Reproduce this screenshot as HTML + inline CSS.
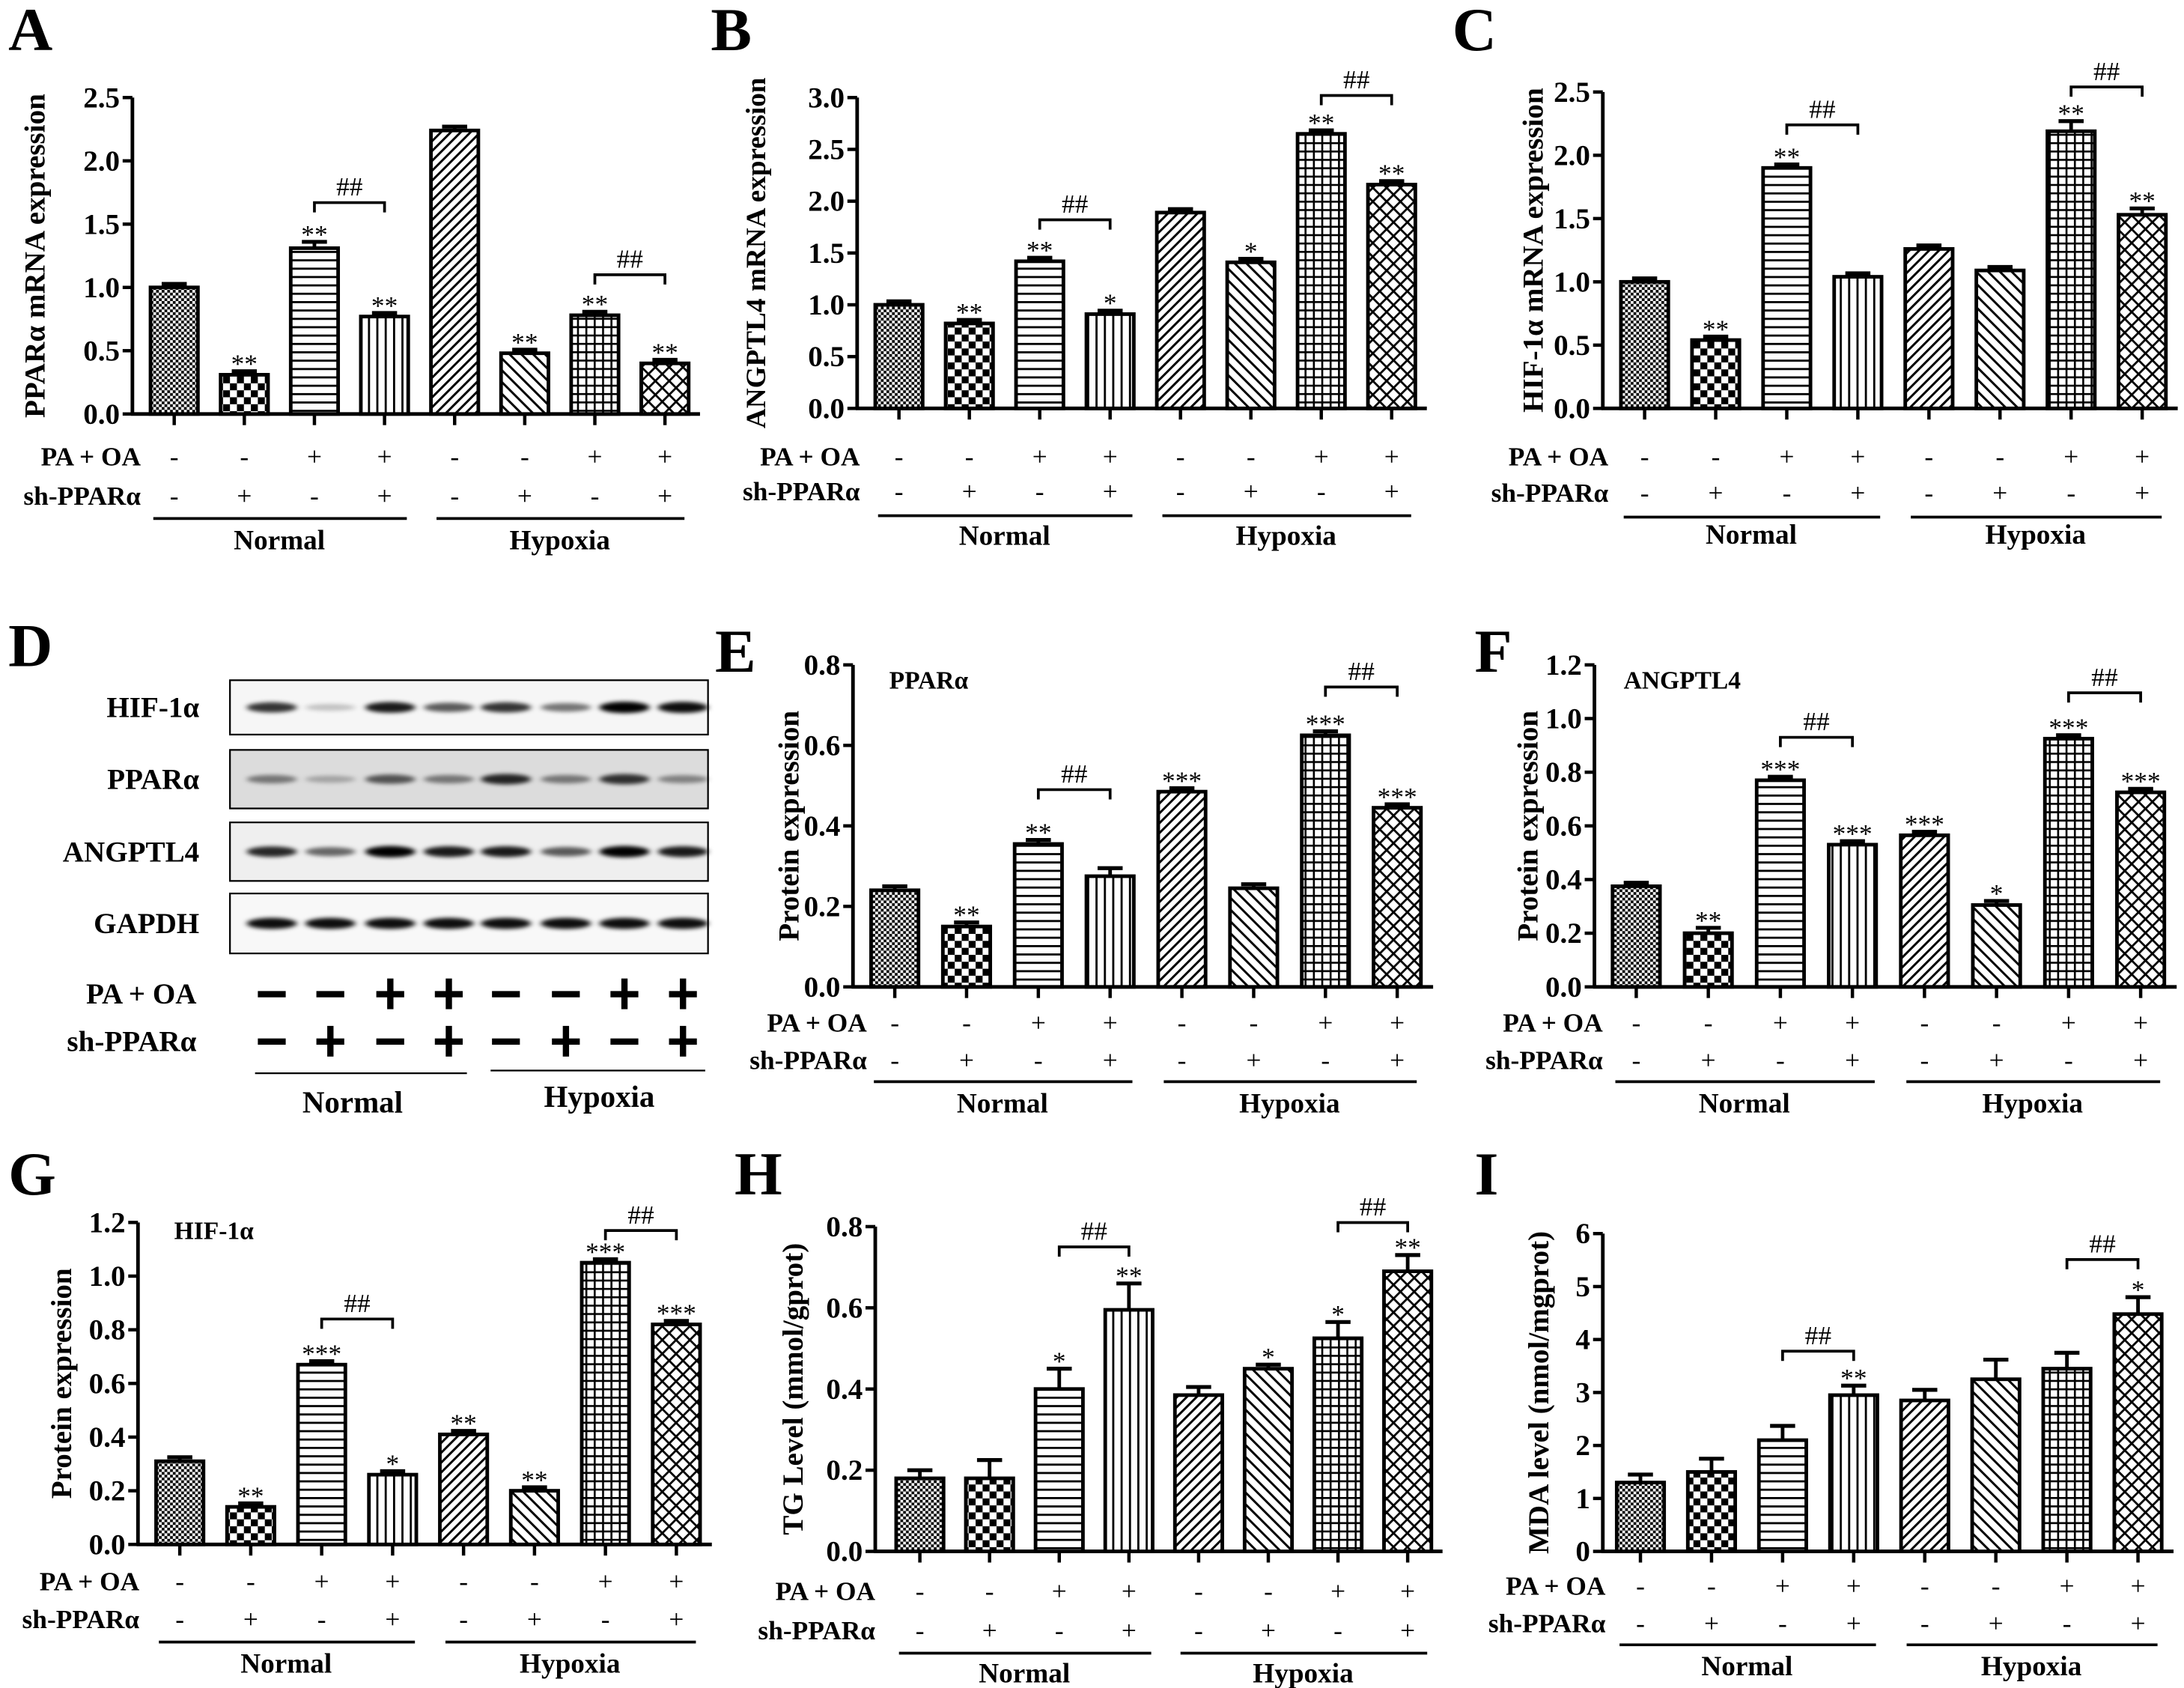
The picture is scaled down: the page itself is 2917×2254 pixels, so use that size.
<!DOCTYPE html>
<html><head><meta charset="utf-8"><style>
html,body{margin:0;padding:0;background:#fff}
svg{display:block}
text{font-family:"Liberation Serif",serif;font-weight:bold;fill:#000}
</style></head><body>
<svg id="fig" xmlns="http://www.w3.org/2000/svg" width="2917" height="2254" viewBox="0 0 1567 1211" preserveAspectRatio="none">
<defs>
<pattern id="p0" width="4" height="4" patternUnits="userSpaceOnUse"><rect width="4" height="4" fill="#fff"/><rect width="2" height="2" fill="#000"/><rect x="2" y="2" width="2" height="2" fill="#000"/></pattern>
<pattern id="p1" width="10" height="10" patternUnits="userSpaceOnUse"><rect width="10" height="10" fill="#fff"/><rect width="5" height="5" fill="#000"/><rect x="5" y="5" width="5" height="5" fill="#000"/></pattern>
<pattern id="p2" width="6" height="6" patternUnits="userSpaceOnUse"><rect width="6" height="6" fill="#fff"/><rect y="0" width="6" height="1.5" fill="#000"/></pattern>
<pattern id="p3" width="6" height="6" patternUnits="userSpaceOnUse"><rect width="6" height="6" fill="#fff"/><rect x="0" width="1.5" height="6" fill="#000"/></pattern>
<pattern id="p4" width="5" height="5" patternUnits="userSpaceOnUse" patternTransform="rotate(45)"><rect width="5" height="5" fill="#fff"/><rect width="1.6" height="5" fill="#000"/></pattern>
<pattern id="p5" width="6" height="6" patternUnits="userSpaceOnUse" patternTransform="rotate(-45)"><rect width="6" height="6" fill="#fff"/><rect width="1.6" height="6" fill="#000"/></pattern>
<pattern id="p6" width="6" height="6" patternUnits="userSpaceOnUse"><rect width="6" height="6" fill="#fff"/><rect width="6" height="1.4" fill="#000"/><rect width="1.4" height="6" fill="#000"/></pattern>
<pattern id="p7" width="7" height="7" patternUnits="userSpaceOnUse" patternTransform="rotate(45)"><rect width="7" height="7" fill="#fff"/><rect width="1.5" height="7" fill="#000"/><rect width="7" height="1.5" fill="#000"/></pattern>
<filter id="blur" x="-20%" y="-100%" width="140%" height="300%"><feGaussianBlur stdDeviation="2.2 1.4"/></filter>
</defs>
</svg>
<script>
// ---- data ----
const groupsPA = ['-','-','+','+','-','-','+','+'];
const groupsSh = ['-','+','-','+','-','+','-','+'];
const valuesA = [1.0,0.31,1.31,0.77,2.24,0.48,0.78,0.40];
const errorsA = [0.01,0.01,0.05,0.02,0.03,0.01,0.02,0.01];
const starsA = ['','**','**','**','','**','**','**'];
const bracketsA = [[2,3,1.67],[6,7,1.1]];
const ticksA = ['0.0','0.5','1.0','1.5','2.0','2.5'];

const valuesB = [1.0,0.82,1.42,0.91,1.89,1.41,2.65,2.16];
const errorsB = [0.01,0.02,0.02,0.02,0.03,0.02,0.03,0.03];
const starsB = ['','**','**','*','','*','**','**'];
const bracketsB = [[2,3,1.82],[6,7,3.02]];
const ticksB = ['0.0','0.5','1.0','1.5','2.0','2.5','3.0'];

const valuesC = [1.0,0.54,1.9,1.04,1.26,1.09,2.19,1.53];
const errorsC = [0.01,0.02,0.02,0.02,0.01,0.01,0.08,0.05];
const starsC = ['','**','**','','','','**','**'];
const bracketsC = [[2,3,2.24],[6,7,2.54]];
const ticksC = ['0.0','0.5','1.0','1.5','2.0','2.5'];

const valuesE = [0.24,0.15,0.355,0.275,0.485,0.245,0.625,0.445];
const errorsE = [0.01,0.01,0.01,0.02,0.005,0.01,0.01,0.005];
const starsE = ['','**','**','','***','','***','***'];
const bracketsE = [[2,3,0.49],[6,7,0.745]];
const ticksE = ['0.0','0.2','0.4','0.6','0.8'];

const valuesF = [0.375,0.2,0.77,0.53,0.565,0.305,0.925,0.725];
const errorsF = [0.01,0.02,0.01,0.01,0.01,0.015,0.01,0.01];
const starsF = ['','**','***','***','***','*','***','***'];
const bracketsF = [[2,3,0.93],[6,7,1.096]];
const ticksF = ['0.0','0.2','0.4','0.6','0.8','1.0','1.2'];

const valuesG = [0.31,0.14,0.67,0.26,0.41,0.2,1.05,0.82];
const errorsG = [0.015,0.01,0.01,0.01,0.01,0.005,0.01,0.005];
const starsG = ['','**','***','*','**','**','***','***'];
const bracketsG = [[2,3,0.84],[6,7,1.17]];
const ticksG = ['0.0','0.2','0.4','0.6','0.8','1.0','1.2'];

const valuesH = [0.18,0.18,0.40,0.595,0.385,0.45,0.525,0.69];
const errorsH = [0.02,0.045,0.05,0.065,0.02,0.01,0.04,0.04];
const starsH = ['','','*','**','','*','*','**'];
const bracketsH = [[2,3,0.75],[6,7,0.81]];
const ticksH = ['0.0','0.2','0.4','0.6','0.8'];

const valuesI = [1.3,1.5,2.1,2.95,2.85,3.25,3.45,4.48];
const errorsI = [0.15,0.25,0.27,0.18,0.2,0.37,0.3,0.32];
const starsI = ['','','','**','','','','*'];
const bracketsI = [[2,3,3.78],[6,7,5.51]];
const ticksI = ['0','1','2','3','4','5','6'];

const blotProteins = ['HIF-1α','PPARα','ANGPTL4','GAPDH'];
const blotHIF = [0.75,0.2,0.85,0.6,0.75,0.5,0.95,0.9];
const blotPPAR = [0.45,0.25,0.6,0.45,0.8,0.45,0.75,0.4];
const blotANG = [0.8,0.55,0.95,0.85,0.85,0.6,0.95,0.85];
const blotGAPDH = [0.9,0.9,0.9,0.9,0.9,0.9,0.9,0.9];

// ---- helpers ----
const NS='http://www.w3.org/2000/svg';
const svg=document.getElementById('fig');
function mk(tag,attrs,parent){const e=document.createElementNS(NS,tag);for(const k in attrs)e.setAttribute(k,attrs[k]);(parent||svg).appendChild(e);return e;}
function txt(s,x,y,size,anchor,parent){const t=mk('text',{x:x,y:y,'font-size':size,'text-anchor':anchor||'middle'},parent);t.textContent=s;return t;}

function drawChart(c,values,errors,stars,brackets,ticks){
  const g=mk('g',{});
  
  
  const max=parseFloat(ticks[ticks.length-1]);
  const ys=v=>c.yBot-(v/max)*(c.yBot-c.yTop);
  const xs=i=>c.first+i*c.step;
  const bw=34;
  const xEnd=xs(7)+c.step*0.5;
  const ya=mk('line',{x1:c.x0,y1:c.yTop,x2:c.x0,y2:c.yBot,stroke:'#000','stroke-width':2.6},g);
  
  
  const xa=mk('line',{x1:c.x0-1,y1:c.yBot,x2:xEnd,y2:c.yBot,stroke:'#000','stroke-width':2.6},g);
  
  
  ticks.forEach(t=>{const y=ys(parseFloat(t));
    mk('line',{x1:c.x0-7,y1:y,x2:c.x0,y2:y,stroke:'#000','stroke-width':2.4},g);
    const tl=txt(t,c.x0-9,y+7,21,'end',g);
    
    
  });
  for(let i=0;i<8;i++){mk('line',{x1:xs(i),y1:c.yBot,x2:xs(i),y2:c.yBot+8,stroke:'#000','stroke-width':2.4},g);}
  const yt=txt(c.title,0,0,c.titleSize||21,'middle',g);
  yt.setAttribute('transform','translate('+c.titleX+','+((c.yTop+c.yBot)/2)+') rotate(-90)');
  
  
  if(c.inset){const it=txt(c.inset,c.insetX,c.insetY,18,'start',g);
    
    }
  values.forEach((v,i)=>{
    const x=xs(i),y=ys(v),ye=ys(v+errors[i]);
    const ey=Math.min(ye,y-2.5);
    mk('line',{x1:x,y1:y,x2:x,y2:ey,stroke:'#000','stroke-width':2.6},g);
    mk('line',{x1:x-9,y1:ey,x2:x+9,y2:ey,stroke:'#000','stroke-width':2.8},g);
    const b=mk('rect',{x:x-bw/2,y:y,width:bw,height:c.yBot-y,fill:'url(#p'+i+')',stroke:'#000','stroke-width':2.6},g);
    
    
    if(stars[i]){const s=txt(stars[i],x,ey+1,19,'middle',g);s.setAttribute('style','font-weight:normal');
      
      }
    const p=txt(groupsPA[i],x,c.rowPA+6,19,'middle',g);p.setAttribute('style','font-weight:normal');
    const q=txt(groupsSh[i],x,c.rowSh+6,19,'middle',g);q.setAttribute('style','font-weight:normal');
  });
  brackets.forEach(br=>{
    const x1=xs(br[0]),x2=xs(br[1]),y=ys(br[2]);
    const p=mk('path',{d:'M'+x1+','+(y+7)+' V'+y+' H'+x2+' V'+(y+7),fill:'none',stroke:'#000','stroke-width':2},g);
    
    
    const t=txt(br.length>3?br[3]:'##',(x1+x2)/2,y-5,19,'middle',g);t.setAttribute('style','font-weight:normal');
    
    
  });
  const l1=txt('PA + OA',c.labelX,c.rowPA+6,19,'end',g);
  
  
  const l2=txt('sh-PPARα',c.labelX,c.rowSh+6,19,'end',g);
  
  
  mk('line',{x1:xs(0)-15,y1:c.line,x2:xs(3)+16,y2:c.line,stroke:'#000','stroke-width':2},g);
  mk('line',{x1:xs(4)-13,y1:c.line,x2:xs(7)+14,y2:c.line,stroke:'#000','stroke-width':2},g);
  const n=txt('Normal',(xs(0)+xs(3))/2,c.group+7,20,'middle',g);
  
  
  const h=txt('Hypoxia',(xs(4)+xs(7))/2,c.group+7,20,'middle',g);
  
  
  const L=txt(c.letter,c.lx,c.ly,44,'start',g);
  
  
}

drawChart({name:'panel-a-ppara-mrna',x0:95,yTop:70,yBot:297,first:125,step:50.3,rowPA:328,rowSh:356,line:372,group:387,labelX:101,title:'PPARα  mRNA expression',titleX:32,letter:'A',lx:6,ly:36},valuesA,errorsA,starsA,bracketsA,ticksA);
drawChart({name:'panel-b-angptl4-mrna',x0:615,yTop:70,yBot:293,first:645,step:50.5,rowPA:328,rowSh:353,line:370,group:384,labelX:617,title:'ANGPTL4 mRNA expression',titleX:549,titleSize:20,letter:'B',lx:510,ly:36},valuesB,errorsB,starsB,bracketsB,ticksB);
drawChart({name:'panel-c-hif1a-mrna',x0:1150,yTop:66,yBot:293,first:1180,step:51,rowPA:328,rowSh:354,line:371,group:383,labelX:1154,title:'HIF-1α  mRNA expression',titleX:1107,letter:'C',lx:1042,ly:36},valuesC,errorsC,starsC,bracketsC,ticksC);
drawChart({name:'panel-e-ppara-protein',x0:612,yTop:477,yBot:708,first:642,step:51.5,rowPA:734,rowSh:761,line:776,group:791,labelX:622,title:'Protein expression',titleX:573,inset:'PPARα',insetX:638,insetY:494,letter:'E',lx:513,ly:482},valuesE,errorsE,starsE,bracketsE,ticksE);
drawChart({name:'panel-f-angptl4-protein',x0:1144,yTop:477,yBot:708,first:1174,step:51.7,rowPA:734,rowSh:761,line:776,group:791,labelX:1150,title:'Protein expression',titleX:1103,inset:'ANGPTL4',insetX:1165,insetY:494,letter:'F',lx:1058,ly:482},valuesF,errorsF,starsF,bracketsF,ticksF);
drawChart({name:'panel-g-hif1a-protein',x0:99,yTop:877,yBot:1108,first:129,step:50.9,rowPA:1135,rowSh:1162,line:1178,group:1193,labelX:100,title:'Protein expression',titleX:51,inset:'HIF-1α',insetX:125,insetY:889,letter:'G',lx:6,ly:857},valuesG,errorsG,starsG,bracketsG,ticksG);
drawChart({name:'panel-h-tg-level',x0:628,yTop:880,yBot:1113,first:660,step:50,rowPA:1142,rowSh:1170,line:1186,group:1200,labelX:628,title:'TG Level (mmol/gprot)',titleX:576,letter:'H',lx:527,ly:857},valuesH,errorsH,starsH,bracketsH,ticksH);
drawChart({name:'panel-i-mda-level',x0:1150,yTop:885,yBot:1113,first:1177,step:51,rowPA:1138,rowSh:1165,line:1180,group:1195,labelX:1152,title:'MDA level (nmol/mgprot)',titleX:1111,letter:'I',lx:1058,ly:857},valuesI,errorsI,starsI,bracketsI,ticksI);

// ---- western blot panel D ----
(function(){
  const g=mk('g',{});
  
  
  const L=txt('D',6,478,44,'start',g);
  
  
  const rows=[[488,527,blotHIF,'#f6f6f6'],[538,580,blotPPAR,'#dcdcdc'],[590,632,blotANG,'#efefef'],[641,684,blotGAPDH,'#f8f8f8']];
  const lanes=[195,237,280,322,363,406,448,490];
  rows.forEach((r,ri)=>{
    const box=mk('rect',{x:165,y:r[0],width:343,height:r[1]-r[0],fill:r[3],stroke:'#000','stroke-width':1.2},g);
    
    
    const cy=(r[0]+r[1])/2;
    r[2].forEach((v,i)=>{
      mk('ellipse',{cx:lanes[i],cy:cy,rx:18,ry:2+v*2.2,fill:'#000','fill-opacity':Math.min(1,v*1.05),filter:'url(#blur)'},g);
    });
    const t=txt(blotProteins[ri],143,cy+7,21,'end',g);
    
    
  });
  const pa=txt('PA + OA',141,720,21,'end',g);
  
  
  const sh=txt('sh-PPARα',141,754,21,'end',g);
  
  
  lanes.forEach((x,i)=>{
    [[groupsPA[i],713],[groupsSh[i],747]].forEach(s=>{
      mk('rect',{x:x-10,y:s[1]-2,width:20,height:4.5,fill:'#000'},g);
      if(s[0]==='+')mk('rect',{x:x-2.2,y:s[1]-11,width:4.5,height:22,fill:'#000'},g);
    });
  });
  mk('line',{x1:183,y1:770,x2:335,y2:770,stroke:'#000','stroke-width':1.2},g);
  mk('line',{x1:352,y1:768,x2:506,y2:768,stroke:'#000','stroke-width':1.2},g);
  const n=txt('Normal',253,798,22,'middle',g);
  
  
  const h=txt('Hypoxia',430,794,22,'middle',g);
  
  
})();
</script>
</body></html>
